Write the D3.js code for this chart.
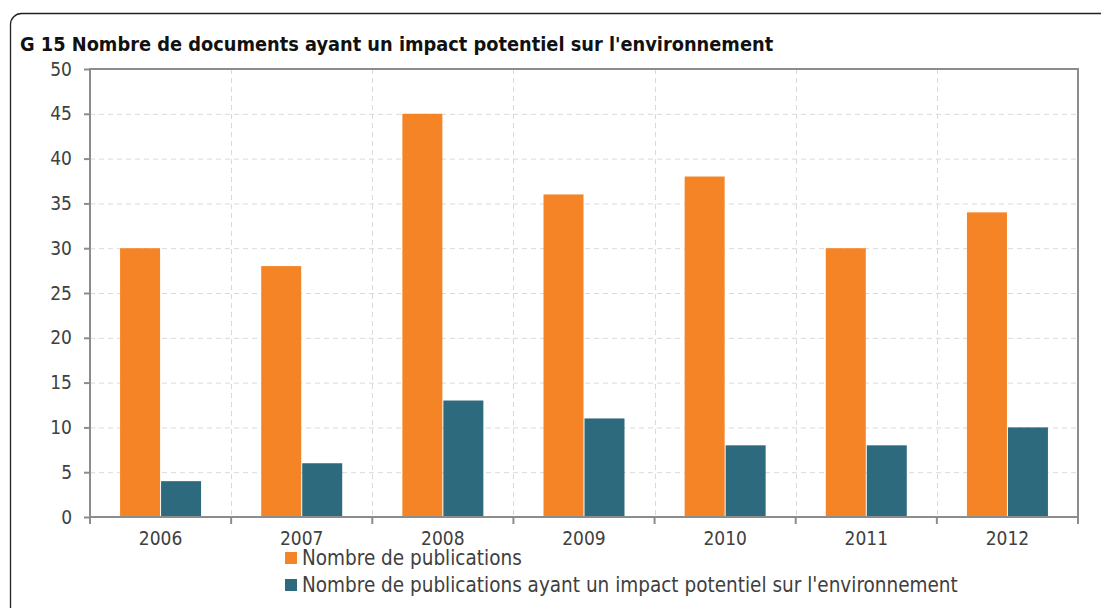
<!DOCTYPE html>
<html>
<head>
<meta charset="utf-8">
<script src="https://cdn.jsdelivr.net/npm/d3@7"></script>
<style>
  body { margin: 0; background: #fff; }
  svg { display: block; }
  svg text { font-family: "DejaVu Sans Condensed", "DejaVu Sans", sans-serif; }
</style>
</head>
<body>
<svg id="chart" width="1101" height="608"></svg>
<script>
const years = ['2006', '2007', '2008', '2009', '2010', '2011', '2012'];
const publications = [30, 28, 45, 36, 38, 30, 34];
const impactPublications = [4, 6, 13, 11, 8, 8, 10];
const yTicks = [0, 5, 10, 15, 20, 25, 30, 35, 40, 45, 50];
const seriesNames = [
  'Nombre de publications',
  "Nombre de publications ayant un impact potentiel sur l'environnement"
];
const colors = ['#f58426', '#2e6a7e'];
const title = "G 15 Nombre de documents ayant un impact potentiel sur l'environnement";

const svg = d3.select('#chart');
const margin = { top: 69, right: 23, bottom: 91, left: 90 };
const width = +svg.attr('width') - margin.left - margin.right;
const height = +svg.attr('height') - margin.top - margin.bottom;

// outer frame, runs off the right/bottom edge
svg.append('rect')
    .attr('x', 10.5).attr('y', 13.5)
    .attr('width', 1200).attr('height', 700)
    .attr('rx', 11)
    .attr('fill', 'none')
    .attr('stroke', '#222')
    .attr('stroke-width', 1.3);

svg.append('text')
    .attr('x', 20).attr('y', 51)
    .attr('font-size', 19.8).attr('font-weight', 'bold')
    .attr('fill', '#111')
    .text(title);

const g = svg.append('g').attr('transform', `translate(${margin.left}, ${margin.top})`);

const x = d3.scaleBand().domain(years).range([0, width]);
const y = d3.scaleLinear().domain([0, 50]).range([height, 0]);

// grid
g.append('g')
    .selectAll('line')
    .data(yTicks.slice(1, -1))
    .join('line')
    .attr('x1', 0).attr('x2', width)
    .attr('y1', (d) => y(d) + 0.5).attr('y2', (d) => y(d) + 0.5)
    .attr('stroke', '#d9d9d9').attr('stroke-dasharray', '5,4');

g.append('g')
    .selectAll('line')
    .data(years.slice(1))
    .join('line')
    .attr('x1', (d) => Math.round(x(d)) + 0.5).attr('x2', (d) => Math.round(x(d)) + 0.5)
    .attr('y1', 0).attr('y2', height)
    .attr('stroke', '#d9d9d9').attr('stroke-dasharray', '5,4');

// bars
const barW = 40;
const series = [publications, impactPublications];
series.forEach((vals, si) => {
  g.append('g')
      .selectAll('rect')
      .data(years)
      .join('rect')
      .attr('x', (d) => x(d) + x.bandwidth() / 2 - barW - 0.5 + si * (barW + 1))
      .attr('y', (d, i) => y(vals[i]))
      .attr('width', barW)
      .attr('height', (d, i) => height - y(vals[i]))
      .attr('fill', colors[si]);
});

// plot frame
g.append('rect')
    .attr('x', 0).attr('y', 0)
    .attr('width', width).attr('height', height)
    .attr('fill', 'none')
    .attr('stroke', '#8c8c8c').attr('stroke-width', 2);

// y axis
const yAxis = g.append('g')
    .attr('font-family', null)
    .call(d3.axisLeft(y).tickValues(yTicks).tickSize(6).tickPadding(12));
yAxis.select('.domain').remove();
yAxis.selectAll('line').attr('stroke', '#8c8c8c').attr('stroke-width', 2);
yAxis.selectAll('text').attr('font-size', 19).attr('fill', '#404040');

// x axis, ticks on the band edges
const xEdges = d3.range(years.length + 1).map((i) => i * x.step());
g.append('g')
    .selectAll('line')
    .data(xEdges)
    .join('line')
    .attr('x1', (d) => d).attr('x2', (d) => d)
    .attr('y1', height).attr('y2', height + 7)
    .attr('stroke', '#8c8c8c').attr('stroke-width', 2);

g.append('g')
    .selectAll('text')
    .data(years)
    .join('text')
    .attr('x', (d) => x(d) + x.bandwidth() / 2)
    .attr('y', height + 28)
    .attr('text-anchor', 'middle')
    .attr('font-size', 19).attr('fill', '#404040')
    .text((d) => d);

// legend
const legend = svg.append('g').attr('transform', 'translate(285, 552)');
seriesNames.forEach((name, i) => {
  const row = legend.append('g').attr('transform', `translate(0, ${i * 27})`);
  row.append('rect').attr('width', 12).attr('height', 12).attr('fill', colors[i]);
  row.append('text')
      .attr('x', 17).attr('y', 12.5)
      .attr('font-size', 20.5).attr('fill', '#404040')
      .text(name);
});
</script>
</body>
</html>
